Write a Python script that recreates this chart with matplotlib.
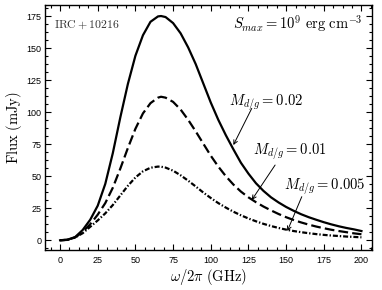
import matplotlib
matplotlib.use("Agg")
import matplotlib.pyplot as plt
from matplotlib.ticker import MultipleLocator, AutoMinorLocator

plt.rcParams['mathtext.fontset'] = 'cm'
plt.rcParams['lines.scale_dashes'] = False

freq = [0, 5, 10, 15, 20, 25, 30, 35, 40, 45, 50, 55, 60, 65, 67, 70, 75, 80, 85,
        90, 95, 100, 105, 110, 115, 120, 125, 130, 135, 140, 145, 150, 155, 160,
        165, 170, 175, 180, 185, 190, 195, 200]

flux_002 = [0, 0.5, 2.5, 8, 16, 27, 44, 68, 96, 122, 144, 160, 170.5, 174.7, 175,
            174.2, 169.5, 161.5, 150.5, 137.5, 122.5, 107.5, 94, 82, 71, 60.5, 52,
            44.5, 38.5, 33.5, 29.5, 26, 23, 20.3, 18, 16, 14.1, 12.4, 10.9, 9.6,
            8.5, 7.2]

flux_001 = [0, 0.3, 2.2, 6.5, 12.5, 20, 29, 41, 56, 72, 87, 99, 107, 111.3, 112,
            111.3, 108, 102, 94, 85, 75.5, 66, 57.5, 50, 43.5, 38, 33.5, 29.7,
            26.3, 23.3, 20.5, 18, 15.8, 13.9, 12.2, 10.7, 9.4, 8.2, 7.2, 6.3, 5.4,
            4.7]

flux_0005 = [0, 0.3, 2.2, 5.5, 10.5, 15.5, 21, 27.5, 35, 42.5, 49, 53.8, 56.6,
             57.5, 57.4, 56.7, 54.3, 50.7, 46.5, 42, 37.3, 33, 29, 25.5, 22.3,
             19.5, 17, 14.8, 12.8, 11.1, 9.6, 8.3, 7.2, 6.3, 5.5, 4.8, 4.2, 3.7,
             3.3, 2.9, 2.6, 2.3]

labels = [r'$M_{d/g} = 0.02$', r'$M_{d/g} = 0.01$', r'$M_{d/g} = 0.005$']
label_pos = [(137, 107), (152.3, 69), (175.8, 41.8)]
arrow_tail = [(127.2, 102.9), (142.7, 58.7), (160.4, 34)]
arrow_tip = [(115, 74.3), (127.2, 31.4), (150.8, 7.2)]

fig = plt.figure(figsize=(3.82, 2.90), dpi=100)
ax = fig.add_axes([45/382, 40/290, 327/382, 245/290])

ax.plot(freq, flux_002, color='black', lw=1.6, linestyle='-')
ax.plot(freq, flux_001, color='black', lw=1.6, linestyle=(0, (7.0, 3.0)))
ax.plot(freq, flux_0005, color='black', lw=1.6, linestyle=(0, (3.6, 1.4, 1.0, 1.4)))

for lab, pos, tail, tip in zip(labels, label_pos, arrow_tail, arrow_tip):
    ax.text(pos[0], pos[1], lab, ha='center', va='center', fontsize=10.5)
    ax.annotate('', xy=tip, xytext=tail,
                arrowprops=dict(arrowstyle='->', color='black', lw=0.7,
                                shrinkA=0, shrinkB=0, mutation_scale=7))

ax.text(0.028, 0.922, r'$\mathrm{IRC + 10216}$', transform=ax.transAxes,
        ha='left', va='center', fontsize=8.5, color='#333333')
ax.text(0.972, 0.922, r'$S_{max} = 10^9\ \mathrm{erg\ cm^{-3}}$',
        transform=ax.transAxes, ha='right', va='center', fontsize=10.5)

ax.set_xlim(-10, 207)
ax.set_ylim(-7.6, 183.6)
ax.xaxis.set_major_locator(MultipleLocator(25))
ax.yaxis.set_major_locator(MultipleLocator(25))
ax.xaxis.set_minor_locator(AutoMinorLocator(4))
ax.yaxis.set_minor_locator(AutoMinorLocator(4))
ax.tick_params(which='both', direction='in', top=True, right=True, width=0.8)
ax.tick_params(which='major', length=4.5, labelsize=6.5)
ax.tick_params(which='minor', length=2.2)
ax.tick_params(axis='x', which='major', pad=4.5)
ax.tick_params(axis='y', which='major', pad=2.5)
for lbl in ax.get_xticklabels() + ax.get_yticklabels():
    lbl.set_fontfamily('Liberation Sans')
for sp in ax.spines.values():
    sp.set_linewidth(1.0)

ax.set_xlabel(r'$\omega/2\pi\ \mathrm{(GHz)}$', fontsize=10.5, labelpad=1)
ax.set_ylabel(r'$\mathrm{Flux\ (mJy)}$', fontsize=10.5, labelpad=2)

fig.savefig('out.png', dpi=100)
